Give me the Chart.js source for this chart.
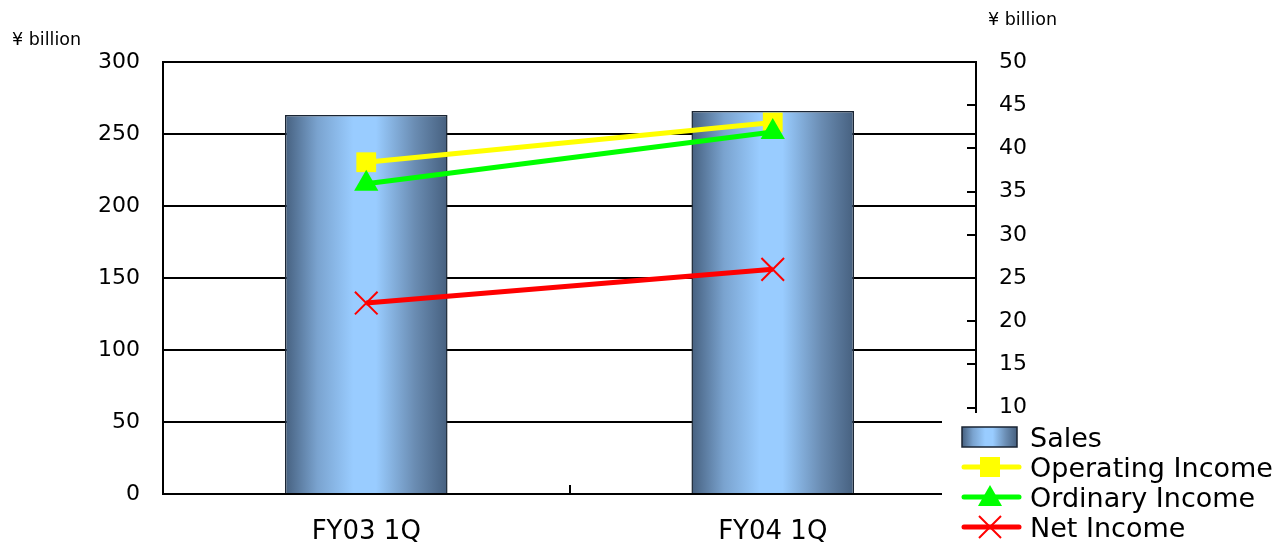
<!DOCTYPE html>
<html><head><meta charset="utf-8">
<script src="https://cdn.jsdelivr.net/npm/chart.js@4"></script>
<style>html,body{margin:0;padding:0;background:#fff}#wrap{width:1280px;height:544px}</style>
</head><body><div id="wrap"><canvas id="c" width="1280" height="544"></canvas></div>
<script>
const categories = ['FY03 1Q', 'FY04 1Q'];
const sales = [263.2, 266.0];
const operatingIncome = [38.4, 43.0];
const ordinaryIncome = [35.9, 41.9];
const netIncome = [22.1, 26.0];
const seriesNames = ['Sales', 'Operating Income', 'Ordinary Income', 'Net Income'];
const unitLabel = '¥ billion';
const leftAxis = { min: 0, max: 300, step: 50 };
const rightAxis = { min: 0, max: 50, step: 5 };

const FONT = 'DejaVu Sans';
const BAR_PCT = 0.4;

function barGradient(ctx, left, right) {
  const g = ctx.createLinearGradient(left, 0, right, 0);
  g.addColorStop(0, '#46607f');
  g.addColorStop(0.2, '#7aa3cf');
  g.addColorStop(0.42, '#99ccff');
  g.addColorStop(0.56, '#99ccff');
  g.addColorStop(0.8, '#6a8cb2');
  g.addColorStop(1, '#46607f');
  return g;
}

const decor = {
  id: 'decor',
  afterDraw(chart) {
    const ctx = chart.ctx, ca = chart.chartArea, xs = chart.scales.x, y1 = chart.scales.y1;
    ctx.save();
    ctx.strokeStyle = '#000';
    ctx.lineWidth = 2;
    // mid tick on category axis (pointing up)
    const mid = Math.round((xs.getPixelForValue(0) + xs.getPixelForValue(1)) / 2);
    ctx.beginPath(); ctx.moveTo(mid, ca.bottom); ctx.lineTo(mid, ca.bottom - 9); ctx.stroke();
    // right axis ticks pointing inward
    y1.ticks.forEach(t => {
      const py = Math.round(y1.getPixelForValue(t.value));
      ctx.beginPath(); ctx.moveTo(ca.right - 9, py); ctx.lineTo(ca.right, py); ctx.stroke();
    });
    // unit labels
    ctx.fillStyle = '#000';
    ctx.font = '17.5px "' + FONT + '"';
    ctx.textBaseline = 'alphabetic';
    ctx.textAlign = 'left';
    ctx.fillText(unitLabel, 12, 45);
    ctx.fillText(unitLabel, 988, 25);

    // legend
    ctx.fillStyle = '#fff';
    ctx.fillRect(942, 413, 338, 131);
    const ds = chart.data.datasets;
    const lx = 1030, rows = [437, 467, 497, 527];
    // Sales swatch
    ctx.fillStyle = barGradient(ctx, 962, 1017);
    ctx.fillRect(962, 427, 55, 20);
    ctx.strokeStyle = '#1a2533'; ctx.lineWidth = 1.5;
    ctx.strokeRect(962, 427, 55, 20);
    for (let i = 1; i < 4; i++) {
      const d = ds[i], y = rows[i];
      ctx.strokeStyle = d.borderColor; ctx.lineWidth = 5; ctx.lineCap = 'round';
      ctx.beginPath(); ctx.moveTo(964, y); ctx.lineTo(1019, y); ctx.stroke();
      ctx.lineCap = 'butt';
      const cx = 990;
      ctx.fillStyle = d.pointBackgroundColor; ctx.strokeStyle = d.pointBorderColor;
      if (d.pointStyle === 'rect') {
        ctx.fillRect(cx - 10, y - 10, 20, 20);
      } else if (d.pointStyle === 'triangle') {
        ctx.beginPath(); ctx.moveTo(cx, y - 12); ctx.lineTo(cx + 12, y + 9); ctx.lineTo(cx - 12, y + 9); ctx.closePath(); ctx.fill();
      } else {
        ctx.lineWidth = 2;
        ctx.beginPath(); ctx.moveTo(cx - 11, y - 11); ctx.lineTo(cx + 11, y + 11);
        ctx.moveTo(cx + 11, y - 11); ctx.lineTo(cx - 11, y + 11); ctx.stroke();
      }
    }
    ctx.fillStyle = '#000';
    ctx.font = '27px "' + FONT + '"';
    ctx.textBaseline = 'alphabetic';
    for (let i = 0; i < 4; i++) ctx.fillText(ds[i].label, lx, rows[i] + 10);
    ctx.restore();
  }
};

const tickFont = { family: FONT, size: 22 };

new Chart(document.getElementById('c'), {
  data: {
    labels: categories,
    datasets: [
      {
        type: 'bar', label: seriesNames[0], data: sales, yAxisID: 'y', order: 5,
        backgroundColor(c) {
          const ch = c.chart;
          if (!ch.chartArea || c.dataIndex === undefined) return '#99ccff';
          const xs = ch.scales.x;
          const cx = xs.getPixelForValue(c.dataIndex);
          const hw = (xs.width / categories.length) * BAR_PCT / 2;
          return barGradient(ch.ctx, cx - hw, cx + hw);
        },
        borderColor: '#1a2533', borderWidth: 1.5,
        barPercentage: BAR_PCT, categoryPercentage: 1.0
      },
      {
        type: 'line', label: seriesNames[1], data: operatingIncome, yAxisID: 'y1', order: 3,
        borderColor: '#ffff00', backgroundColor: '#ffff00', borderWidth: 5,
        pointStyle: 'rect', pointRadius: 14, pointBackgroundColor: '#ffff00', pointBorderColor: '#ffff00', pointBorderWidth: 0,
        tension: 0
      },
      {
        type: 'line', label: seriesNames[2], data: ordinaryIncome, yAxisID: 'y1', order: 2,
        borderColor: '#00ff00', backgroundColor: '#00ff00', borderWidth: 5,
        pointStyle: 'triangle', pointRadius: 14, pointBackgroundColor: '#00ff00', pointBorderColor: '#00ff00', pointBorderWidth: 0,
        tension: 0
      },
      {
        type: 'line', label: seriesNames[3], data: netIncome, yAxisID: 'y1', order: 1,
        borderColor: '#ff0000', backgroundColor: '#ff0000', borderWidth: 5,
        pointStyle: 'crossRot', pointRadius: 16, pointBackgroundColor: '#ff0000', pointBorderColor: '#ff0000', pointBorderWidth: 2,
        tension: 0
      }
    ]
  },
  options: {
    responsive: false,
    animation: false,
    events: [],
    layout: { padding: { top: 62, left: 0, right: 0, bottom: 0 } },
    plugins: { legend: { display: false }, tooltip: { enabled: false } },
    scales: {
      x: {
        type: 'category', offset: true,
        grid: { display: false, drawTicks: false },
        border: { display: false },
        ticks: { font: { family: FONT, size: 26 }, color: '#000', padding: 23, maxRotation: 0 },
        afterFit(s) { s.height = 50; }
      },
      y: {
        position: 'left', min: leftAxis.min, max: leftAxis.max,
        ticks: { stepSize: leftAxis.step, font: tickFont, color: '#000', padding: 23 },
        grid: { color: '#000', lineWidth: 2, drawTicks: false },
        border: { display: true, color: '#000', width: 2 },
        afterFit(s) { s.width = 163; }
      },
      y1: {
        position: 'right', min: rightAxis.min, max: rightAxis.max,
        ticks: { stepSize: rightAxis.step, font: tickFont, color: '#000', padding: 23 },
        grid: { drawOnChartArea: false, drawTicks: false },
        border: { display: true, color: '#000', width: 2 },
        afterFit(s) { s.width = 304; }
      }
    }
  },
  plugins: [decor]
});
</script>
</body></html>
